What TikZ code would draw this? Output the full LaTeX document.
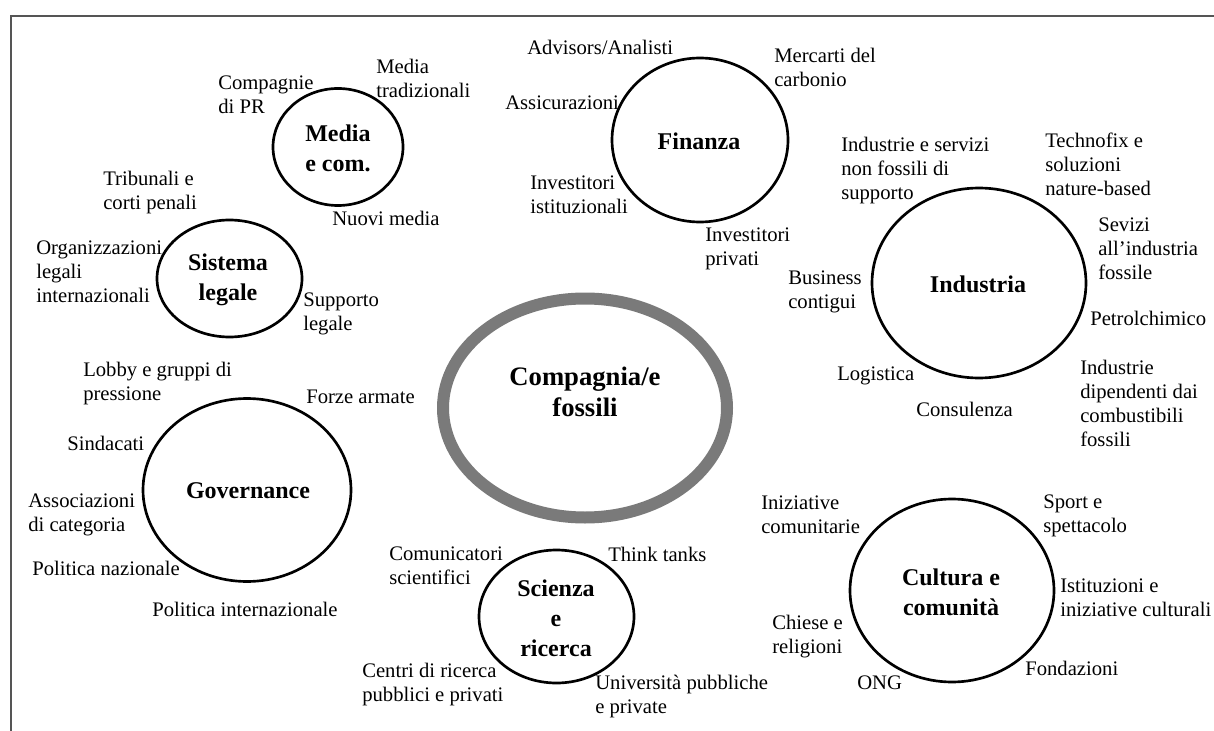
\documentclass[tikz,border=0pt]{standalone}
\usepackage{fontspec}
\setmainfont{Liberation Serif}
\usetikzlibrary{shapes.geometric}
\definecolor{ringgray}{RGB}{122,122,122}
\definecolor{framegray}{RGB}{85,85,85}
\tikzset{
  grp/.style={draw=black, line width=2pt, ellipse, inner sep=0pt, outer sep=0pt},
  ttl/.style={font=\fontsize{18}{22.5}\selectfont\bfseries, align=center, inner sep=0pt},
  lbl/.style={font=\fontsize{15.5}{18}\selectfont, align=left, anchor=west, inner sep=0pt},
}
\begin{document}
\begin{tikzpicture}[x=0.75pt,y=-0.75pt]
\useasboundingbox (0,0) rectangle (1214,731);
\coordinate (fa) at (1214,16);
\coordinate (fb) at (11,16);
\coordinate (fc) at (11,731);
\draw[framegray, line width=1.5pt] (fa) -- (fb) -- (fc);

% central ring
\node[draw=ringgray, line width=9pt, ellipse, inner sep=0pt, minimum width=213pt, minimum height=164.25pt] (core) at (585,408) {};
\node[font=\fontsize{20}{23.25}\selectfont\bfseries, align=center, inner sep=0pt] (coret) at (585,392) {Compagnia/e\\fossili};

% group circles
\node[grp, minimum width=97.5pt, minimum height=87.75pt] (media) at (338,147) {};
\node[grp, minimum width=132pt, minimum height=123pt] (fin) at (700,140) {};
\node[grp, minimum width=160.5pt, minimum height=142.5pt] (ind) at (979,283) {};
\node[grp, minimum width=108.75pt, minimum height=87.75pt] (leg) at (229.5,278.5) {};
\node[grp, minimum width=156pt, minimum height=137.25pt] (gov) at (247,490) {};
\node[grp, minimum width=116.25pt, minimum height=99.75pt] (sci) at (556.5,616.5) {};
\node[grp, minimum width=153pt, minimum height=137.25pt] (cul) at (952,590.5) {};

% titles
\node[ttl] (mediat) at (338,148) {Media\\e com.};
\node[ttl] (fint) at (699,141) {Finanza};
\node[ttl] (indt) at (978,284) {Industria};
\node[ttl] (legt) at (228,280) {Sistema\\legale};
\node[ttl] (govt) at (248,491) {Governance};
\node[ttl] (scit) at (556,618) {Scienza\\e\\ricerca};
\node[ttl] (cult) at (951,592) {Cultura e\\comunità};

% media labels
\node[lbl] (m1) at (218,95) {Compagnie\\di PR};
\node[lbl] (m2) at (376,78) {Media\\tradizionali};
\node[lbl] (m3) at (332,218) {Nuovi media};

% legal labels
\node[lbl] (l1) at (103,193) {Tribunali e\\corti penali};
\node[lbl] (l2) at (36,272) {Organizzazioni\\legali\\internazionali};
\node[lbl] (l3) at (303,314) {Supporto\\legale};

% governance labels
\node[lbl] (g1) at (83,384) {Lobby e gruppi di\\pressione};
\node[lbl] (g2) at (306,397) {Forze armate};
\node[lbl] (g3) at (67,443) {Sindacati};
\node[lbl] (g4) at (28,515) {Associazioni\\di categoria};
\node[lbl] (g5) at (32,568) {Politica nazionale};
\node[lbl] (g6) at (152,609) {Politica internazionale};

% finance labels
\node[lbl] (f1) at (527,47) {Advisors/Analisti};
\node[lbl] (f2) at (774,67) {Mercarti del\\carbonio};
\node[lbl] (f3) at (505,103) {Assicurazioni};
\node[lbl] (f4) at (530,195) {Investitori\\istituzionali};
\node[lbl] (f5) at (705,249) {Investitori\\privati};

% industry labels
\node[lbl] (i1) at (841,171) {Industrie e servizi\\non fossili di\\supporto};
\node[lbl] (i2) at (1045,164) {Technofix e\\soluzioni\\nature-based};
\node[lbl] (i3) at (1098,249) {Sevizi\\all’industria\\fossile};
\node[lbl] (i4) at (788,292) {Business\\contigui};
\node[lbl] (i5) at (1090,318) {Petrolchimico};
\node[lbl] (i6) at (837,376) {Logistica};
\node[lbl] (i7) at (916,409) {Consulenza};
\node[lbl] (i8) at (1080,403) {Industrie\\dipendenti dai\\combustibili\\fossili};

% science labels
\node[lbl] (s1) at (389,566) {Comunicatori\\scientifici};
\node[lbl] (s2) at (608,554) {Think tanks};
\node[lbl] (s3) at (362,685) {Centri di ricerca\\pubblici e privati};
\node[lbl] (s4) at (595,697) {Università pubbliche\\e private};

% culture labels
\node[lbl] (c1) at (761,515) {Iniziative\\comunitarie};
\node[lbl] (c2) at (1043,516) {Sport e\\spettacolo};
\node[lbl] (c3) at (1060,598) {Istituzioni e\\iniziative culturali};
\node[lbl] (c4) at (772,637) {Chiese e\\religioni};
\node[lbl] (c5) at (1025,668) {Fondazioni};
\node[lbl] (c6) at (857,683) {ONG};
\end{tikzpicture}
\end{document}
